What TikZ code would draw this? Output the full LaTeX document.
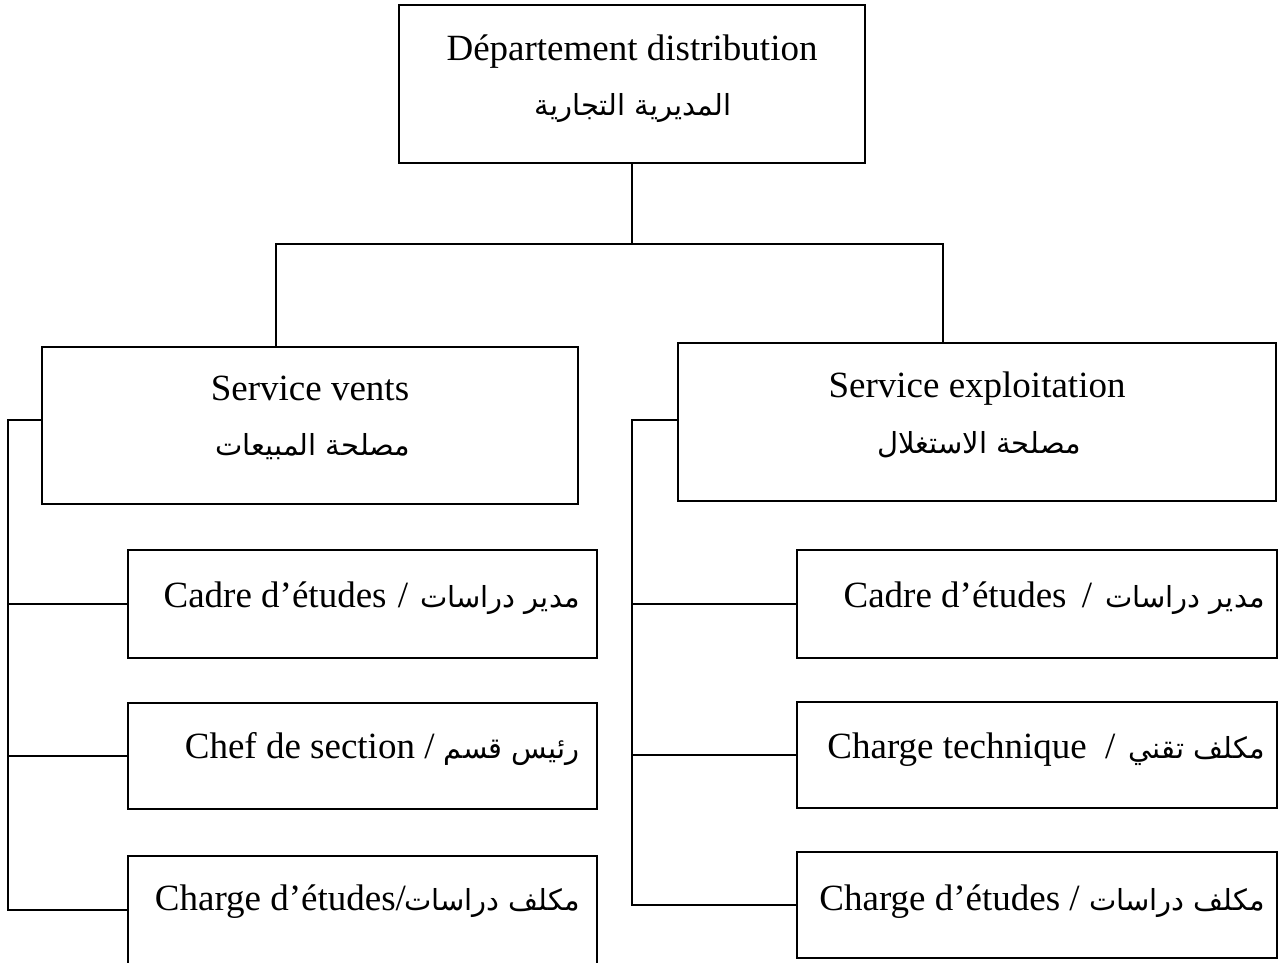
\documentclass[tikz,border=0pt]{standalone}
\usepackage{fontspec}
\setmainfont{Liberation Serif}
\newfontfamily\arabicfont[Script=Arabic]{DejaVu Sans}
\TeXXeTstate=1
% Arabic run, set right to left
\newcommand{\artxt}[1]{{\arabicfont\fontsize{29}{35}\selectfont\beginR #1\endR}}

\begin{document}
\begin{tikzpicture}[x=1pt,y=-1pt,
  box/.style={draw, line width=1.3pt, inner sep=0pt},
  link/.style={line width=1.3pt},
  lbl/.style={font=\fontsize{37}{44}\selectfont, inner sep=0pt}
]
\useasboundingbox (0,0) rectangle (1281,962);

% boxes
\node[box, minimum width=466pt, minimum height=158pt] (top) at (632,84) {};
\node[box, minimum width=536pt, minimum height=157pt] (sv) at (310,425.5) {};
\node[box, minimum width=598pt, minimum height=158pt] (se) at (977,422) {};

\node[box, minimum width=469pt, minimum height=108pt] (lc1) at (362.5,604) {};
\node[box, minimum width=469pt, minimum height=106pt] (lc2) at (362.5,756) {};
\node[box, minimum width=469pt, minimum height=108pt] (lc3) at (362.5,910) {};

\node[box, minimum width=480pt, minimum height=108pt] (rc1) at (1037,604) {};
\node[box, minimum width=480pt, minimum height=106pt] (rc2) at (1037,755) {};
\node[box, minimum width=480pt, minimum height=106pt] (rc3) at (1037,905) {};

% texts
\node[lbl, anchor=base] (toplat) at (632,60) {Département distribution};
\node[lbl, anchor=base] (topar) at (633,115) {\artxt{المديرية التجارية}};

\node[lbl, anchor=base] (svlat) at (310,400) {Service vents};
\node[lbl, anchor=base] (svar) at (313,455) {\artxt{مصلحة المبيعات}};

\node[lbl, anchor=base] (selat) at (977,397) {Service exploitation};
\node[lbl, anchor=base] (sear) at (979,453) {\artxt{مصلحة الاستغلال}};

\node[lbl, anchor=base east] (lt1) at (580,607) {Cadre d’études\hspace{2pt} / \hspace{3pt}\artxt{مدير دراسات}};
\node[lbl, anchor=base east] (lt2) at (580,758) {Chef de section / \artxt{رئيس قسم}};
\node[lbl, anchor=base east] (lt3) at (580,910) {Charge d’études/\hspace{-2pt}\artxt{مكلف دراسات}};

\node[lbl, anchor=base east] (rt1) at (1265,607) {Cadre d’études\hspace{6pt} / \hspace{4pt}\artxt{مدير دراسات}};
\node[lbl, anchor=base east] (rt2) at (1265,758) {Charge technique~ / \hspace{4pt}\artxt{مكلف تقني}};
\node[lbl, anchor=base east] (rt3) at (1265,910) {Charge d’études / \artxt{مكلف دراسات}};

% connectors
\coordinate (hub) at (632,244);
\coordinate (lrail) at (8,0);
\coordinate (rrail) at (632,0);

\draw[link] (top.south) -- (hub);
\draw[link] ([xshift=-34pt]sv.north) |- (hub) -| ([xshift=-34pt]se.north);

\draw[link] ([yshift=5.5pt]sv.west) -| (lrail |- lc3.west) -- (lc3.west);
\draw[link] (lrail |- lc1.west) -- (lc1.west);
\draw[link] (lrail |- lc2.west) -- (lc2.west);

\draw[link] ([yshift=2pt]se.west) -| (rrail |- rc3.west) -- (rc3.west);
\draw[link] (rrail |- rc1.west) -- (rc1.west);
\draw[link] (rrail |- rc2.west) -- (rc2.west);
\end{tikzpicture}
\end{document}
